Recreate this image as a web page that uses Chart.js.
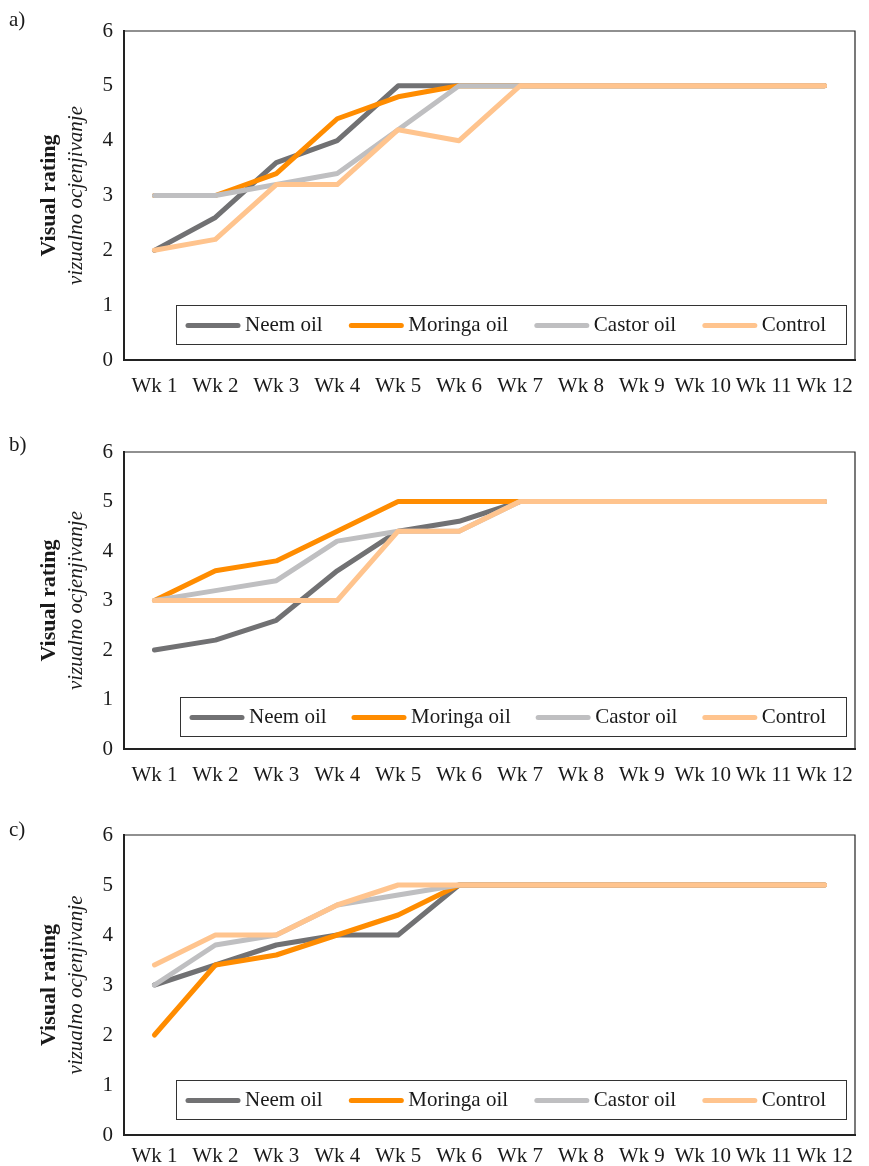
<!DOCTYPE html>
<html>
<head>
<meta charset="utf-8">
<script src="https://cdn.jsdelivr.net/npm/chart.js@4.4.1/dist/chart.umd.min.js"></script>
<style>
  html, body { margin: 0; padding: 0; background: #fff; }
  #wrap { position: relative; width: 869px; height: 1166px; }
  .panel { position: absolute; left: 0; width: 869px; }
</style>
</head>
<body>
<div id="wrap">
  <div class="panel" style="top:0;height:400px"><canvas id="chartA"></canvas></div>
  <div class="panel" style="top:400px;height:400px"><canvas id="chartB"></canvas></div>
  <div class="panel" style="top:800px;height:366px"><canvas id="chartC"></canvas></div>
</div>
<script>
// Weekly visual ratings for three trials (a, b, c)
const weeks = ['Wk 1', 'Wk 2', 'Wk 3', 'Wk 4', 'Wk 5', 'Wk 6', 'Wk 7', 'Wk 8', 'Wk 9', 'Wk 10', 'Wk 11', 'Wk 12'];
const seriesNames = ['Neem oil', 'Moringa oil', 'Castor oil', 'Control'];
const yTicks = [0, 1, 2, 3, 4, 5, 6];

const neemA    = [2, 2.6, 3.6, 4.0, 5, 5, 5, 5, 5, 5, 5, 5];
const moringaA = [3, 3, 3.4, 4.4, 4.8, 5, 5, 5, 5, 5, 5, 5];
const castorA  = [3, 3, 3.2, 3.4, 4.2, 5, 5, 5, 5, 5, 5, 5];
const controlA = [2, 2.2, 3.2, 3.2, 4.2, 4.0, 5, 5, 5, 5, 5, 5];

const neemB    = [2, 2.2, 2.6, 3.6, 4.4, 4.6, 5, 5, 5, 5, 5, 5];
const moringaB = [3, 3.6, 3.8, 4.4, 5, 5, 5, 5, 5, 5, 5, 5];
const castorB  = [3, 3.2, 3.4, 4.2, 4.4, 4.4, 5, 5, 5, 5, 5, 5];
const controlB = [3, 3, 3, 3, 4.4, 4.4, 5, 5, 5, 5, 5, 5];

const neemC    = [3, 3.4, 3.8, 4.0, 4.0, 5, 5, 5, 5, 5, 5, 5];
const moringaC = [2, 3.4, 3.6, 4.0, 4.4, 5, 5, 5, 5, 5, 5, 5];
const castorC  = [3, 3.8, 4.0, 4.6, 4.8, 5, 5, 5, 5, 5, 5, 5];
const controlC = [3.4, 4.0, 4.0, 4.6, 5.0, 5, 5, 5, 5, 5, 5, 5];

const seriesColors = ['#717173', '#ff8c00', '#bfbfc1', '#ffc48e'];
const FONT = '"Liberation Serif", "Times New Roman", serif';
const TEXT = '#1a1a1a';
const FS = 21;

// Frame around the plot area, panel letter, two-line axis title and the boxed legend
const decorPlugin = {
  id: 'decor',
  afterDatasetsDraw(chart, args, opts) {
    const ctx = chart.ctx;
    const a = chart.chartArea;
    ctx.save();
    // top and right edges of the plot frame
    ctx.strokeStyle = '#222';
    ctx.lineWidth = 1.2;
    ctx.beginPath();
    ctx.moveTo(a.left, a.top);
    ctx.lineTo(a.right, a.top);
    ctx.lineTo(a.right, a.bottom);
    ctx.stroke();

    // panel letter
    ctx.fillStyle = TEXT;
    ctx.font = FS + 'px ' + FONT;
    ctx.textAlign = 'left';
    ctx.textBaseline = 'middle';
    ctx.fillText(opts.panel, 9, opts.panelY);

    // axis title, rotated
    const cy = (a.top + a.bottom) / 2;
    ctx.save();
    ctx.translate(49, cy);
    ctx.rotate(-Math.PI / 2);
    ctx.textAlign = 'center';
    ctx.font = 'bold 22px ' + FONT;
    ctx.fillText('Visual rating', 0, 0);
    ctx.restore();
    ctx.save();
    ctx.translate(76, cy);
    ctx.rotate(-Math.PI / 2);
    ctx.textAlign = 'center';
    ctx.font = 'italic 21px ' + FONT;
    ctx.fillText('vizualno ocjenjivanje', 0, 0);
    ctx.restore();

    // legend box inside the plot area
    const bx = a.left + opts.legendLeft, bw = a.right - 9 - bx;
    const bh = 39, by = a.bottom - opts.legendBottom - bh;
    ctx.fillStyle = '#fff';
    ctx.fillRect(bx, by, bw, bh);
    ctx.strokeStyle = '#333';
    ctx.lineWidth = 1;
    ctx.strokeRect(bx + 0.5, by + 0.5, bw, bh);

    ctx.font = FS + 'px ' + FONT;
    const sample = 56, gapText = 4;
    const widths = chart.data.datasets.map(d => sample + gapText + ctx.measureText(d.label).width);
    const total = widths.reduce((s, w) => s + w, 0);
    const gap = Math.max(10, (bw - 29 - total) / (widths.length - 1));
    let x = bx + 9;
    const ly = by + bh / 2 + 1;
    chart.data.datasets.forEach((d, i) => {
      ctx.strokeStyle = d.borderColor;
      ctx.lineWidth = 5;
      ctx.lineCap = 'round';
      ctx.beginPath();
      ctx.moveTo(x + 3, ly);
      ctx.lineTo(x + sample - 3, ly);
      ctx.stroke();
      ctx.fillStyle = TEXT;
      ctx.textAlign = 'left';
      ctx.textBaseline = 'middle';
      ctx.fillText(d.label, x + sample + gapText, ly);
      x += widths[i] + gap;
    });
    ctx.restore();
  }
};

function makeChart(id, values, cfg) {
  const datasets = seriesNames.map((name, i) => ({
    label: name,
    data: values[i],
    borderColor: seriesColors[i],
    backgroundColor: seriesColors[i],
    borderWidth: 5,
    pointRadius: 0,
    tension: 0,
    borderCapStyle: 'round',
    borderJoinStyle: 'round',
    order: seriesNames.length - i
  }));
  return new Chart(document.getElementById(id), {
    type: 'line',
    data: { labels: weeks, datasets },
    plugins: [decorPlugin],
    options: {
      responsive: true,
      maintainAspectRatio: false,
      animation: false,
      layout: { padding: { top: cfg.top, right: 14, left: 0, bottom: 0 } },
      plugins: {
        legend: { display: false },
        tooltip: { enabled: false },
        decor: { panel: cfg.panel, panelY: cfg.panelY, legendLeft: cfg.legendLeft, legendBottom: cfg.legendBottom }
      },
      scales: {
        x: {
          offset: true,
          grid: { display: false, drawTicks: false },
          border: { display: true, color: '#222', width: 2 },
          ticks: { color: TEXT, font: { family: FONT, size: FS }, padding: cfg.xpad, maxRotation: 0, autoSkip: false },
          afterFit(scale) { scale.height = cfg.xh; }
        },
        y: {
          min: 0, max: 6,
          afterBuildTicks(scale) { scale.ticks = yTicks.map(v => ({ value: v })); },
          grid: { display: false, drawTicks: false },
          border: { display: true, color: '#222', width: 2 },
          ticks: { color: TEXT, font: { family: FONT, size: FS }, padding: 11 },
          afterFit(scale) { scale.width = 124; }
        }
      }
    }
  });
}

makeChart('chartA', [neemA, moringaA, castorA, controlA], { top: 31, xh: 40, xpad: 14, panel: 'a)', panelY: 20, legendLeft: 52, legendBottom: 16 });
makeChart('chartB', [neemB, moringaB, castorB, controlB], { top: 52, xh: 51, xpad: 14, panel: 'b)', panelY: 45, legendLeft: 56, legendBottom: 13 });
makeChart('chartC', [neemC, moringaC, castorC, controlC], { top: 35, xh: 31, xpad: 9, panel: 'c)', panelY: 30, legendLeft: 52, legendBottom: 16 });
</script>
</body>
</html>
